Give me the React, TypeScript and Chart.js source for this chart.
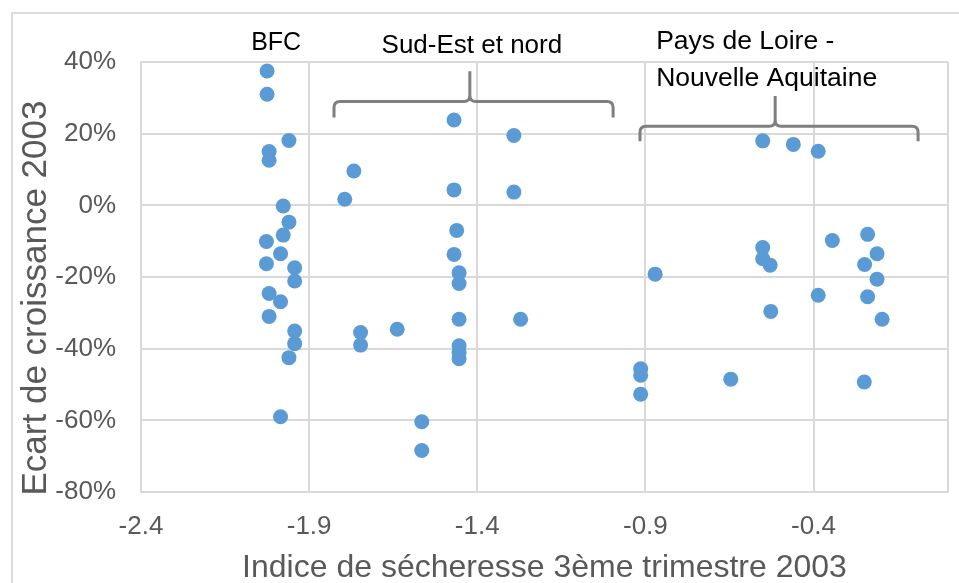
import React, { useEffect, useRef } from "react";
import { Chart, registerables } from "chart.js";

Chart.register(...registerables);

// BFC group
const bfcX = [-2.025, -2.025, -1.96, -2.019, -2.019, -1.977, -1.96, -1.977, -2.027, -1.985, -2.027, -1.943, -1.943, -2.019, -1.985, -2.019, -1.943, -1.943, -1.96, -1.985];
const bfcY = [0.375, 0.31, 0.181, 0.15, 0.126, -0.002, -0.047, -0.083, -0.101, -0.135, -0.163, -0.174, -0.211, -0.246, -0.269, -0.31, -0.351, -0.386, -0.425, -0.59];

// Sud-Est et nord group
const sudEstX = [-1.469, -1.291, -1.767, -1.794, -1.469, -1.291, -1.461, -1.469, -1.454, -1.454, -1.454, -1.271, -1.638, -1.747, -1.747, -1.454, -1.454, -1.454, -1.565, -1.565];
const sudEstY = [0.238, 0.195, 0.096, 0.017, 0.043, 0.037, -0.07, -0.137, -0.188, -0.218, -0.318, -0.318, -0.346, -0.355, -0.39, -0.392, -0.411, -0.428, -0.604, -0.684];

// Pays de Loire - Nouvelle Aquitaine group
const ploX = [-0.551, -0.46, -0.386, -0.344, -0.239, -0.211, -0.551, -0.551, -0.529, -0.248, -0.871, -0.211, -0.386, -0.239, -0.527, -0.196, -0.914, -0.914, -0.914, -0.646, -0.249];
const ploY = [0.18, 0.17, 0.151, -0.098, -0.081, -0.135, -0.118, -0.149, -0.167, -0.165, -0.192, -0.206, -0.251, -0.255, -0.296, -0.318, -0.456, -0.474, -0.527, -0.485, -0.493];

const xTicks = [-2.4, -1.9, -1.4, -0.9, -0.4, 0];
const yMin = -0.8;
const yMax = 0.4;
const yStep = 0.2;

const xTitle = "Indice de sécheresse 3ème trimestre 2003";
const yTitle = "Ecart de croissance 2003";

// group annotations (labels + braces)
const groupLabels = ["BFC", "Sud-Est et nord", "Pays de Loire -", "Nouvelle Aquitaine"];
const braceLeft = [-1.826, -0.916];
const braceRight = [-0.996, -0.089];
const braceTip = [-1.422, -0.514];
const braceBar = [0.29, 0.221];
const braceEnd = [0.245, 0.179];
const braceTop = [0.374, 0.305];

const FONT = '"Liberation Sans", Arial, sans-serif';
const GRID = "#d9d9d9";
const TEXT = "#595959";
const DOT = "#5b9bd5";

const toPts = (xs: number[], ys: number[]) => xs.map((x, i) => ({ x, y: ys[i] }));

const annotPlugin = {
  id: "annot",
  afterDraw(chart: any) {
    const { ctx, scales } = chart;
    const x = scales.x;
    const y = scales.y;
    ctx.save();
    // braces
    ctx.strokeStyle = "#7f7f7f";
    ctx.lineWidth = 3;
    ctx.lineJoin = "round";
    ctx.lineCap = "butt";
    for (let i = 0; i < braceLeft.length; i++) {
      const l = x.getPixelForValue(braceLeft[i]);
      const r = x.getPixelForValue(braceRight[i]);
      const t = x.getPixelForValue(braceTip[i]);
      const hb = y.getPixelForValue(braceBar[i]);
      const he = y.getPixelForValue(braceEnd[i]);
      const ht = y.getPixelForValue(braceTop[i]);
      const rad = 6;
      ctx.beginPath();
      ctx.moveTo(l, he);
      ctx.lineTo(l, hb + rad);
      ctx.quadraticCurveTo(l, hb, l + rad, hb);
      ctx.lineTo(t - rad, hb);
      ctx.quadraticCurveTo(t, hb, t, hb - rad);
      ctx.lineTo(t, ht);
      ctx.moveTo(t, hb - rad);
      ctx.quadraticCurveTo(t, hb, t + rad, hb);
      ctx.lineTo(r - rad, hb);
      ctx.quadraticCurveTo(r, hb, r, hb + rad);
      ctx.lineTo(r, he);
      ctx.stroke();
    }
    // group labels
    ctx.fillStyle = "#000";
    ctx.font = `25px ${FONT}`;
    ctx.textBaseline = "alphabetic";
    ctx.textAlign = "center";
    ctx.fillText(groupLabels[0], x.getPixelForValue(-1.998), 50);
    ctx.font = `26px ${FONT}`;
    ctx.fillText(groupLabels[1], x.getPixelForValue(-1.416), 53);
    ctx.textAlign = "left";
    ctx.font = `26.5px ${FONT}`;
    ctx.fillText(groupLabels[2], x.getPixelForValue(-0.868), 49);
    ctx.fillText(groupLabels[3], x.getPixelForValue(-0.868), 86);
    // axis titles
    ctx.fillStyle = TEXT;
    ctx.font = `32px ${FONT}`;
    ctx.textAlign = "center";
    ctx.fillText(xTitle, (chart.chartArea.left + chart.chartArea.right) / 2, 577);
    ctx.font = `35px ${FONT}`;
    ctx.translate(46, 298);
    ctx.rotate(-Math.PI / 2);
    ctx.fillText(yTitle, 0, 0);
    ctx.restore();
  },
};

export default function App() {
  const ref = useRef<HTMLCanvasElement | null>(null);
  useEffect(() => {
    if (!ref.current) return;
    const chart = new Chart(ref.current, {
      type: "scatter",
      data: {
        datasets: [
          { label: "BFC", data: toPts(bfcX, bfcY) },
          { label: "Sud-Est et nord", data: toPts(sudEstX, sudEstY) },
          { label: "Pays de Loire - Nouvelle Aquitaine", data: toPts(ploX, ploY) },
        ].map((d) => ({
          ...d,
          backgroundColor: DOT,
          borderWidth: 0,
          pointRadius: 7.5,
          pointHoverRadius: 7.5,
        })),
      },
      options: {
        animation: false,
        responsive: false,
        devicePixelRatio: 1,
        layout: { padding: { top: 62, right: 11, left: 0, bottom: 0 } },
        plugins: { legend: { display: false }, tooltip: { enabled: false } },
        scales: {
          x: {
            type: "linear",
            min: -2.4,
            max: 0,
            afterBuildTicks: (s: any) => {
              s.ticks = xTicks.map((v) => ({ value: v }));
            },
            afterFit: (s: any) => {
              s.height = 91;
              s.paddingLeft = 0;
              s.paddingRight = 0;
            },
            ticks: {
              autoSkip: false,
              maxRotation: 0,
              padding: 19,
              color: TEXT,
              font: { family: FONT, size: 26 },
              callback: (v: any) => (Number(v) === 0 ? "" : Number(v).toFixed(1)),
            },
            grid: { color: GRID, lineWidth: 2, drawTicks: false },
            border: { color: GRID, width: 2 },
          },
          y: {
            min: yMin,
            max: yMax,
            afterFit: (s: any) => {
              s.width = 141;
              s.paddingTop = 0;
              s.paddingBottom = 0;
            },
            ticks: {
              stepSize: yStep,
              padding: 25,
              color: TEXT,
              font: { family: FONT, size: 26 },
              callback: (v: any) => `${Math.round(Number(v) * 100)}%`,
            },
            grid: { color: GRID, lineWidth: 2, drawTicks: false },
            border: { color: GRID, width: 2 },
          },
        },
      },
      plugins: [annotPlugin],
    });
    return () => chart.destroy();
  }, []);

  return (
    <div
      style={{
        position: "fixed",
        left: 0,
        top: 0,
        width: 959,
        height: 583,
        overflow: "hidden",
        background: "#fff",
      }}
    >
      <div
        style={{
          position: "absolute",
          left: 11,
          top: 12,
          width: 1000,
          height: 700,
          border: "2px solid #dcdcdc",
        }}
      />
      <canvas
        ref={ref}
        width={959}
        height={583}
        style={{ position: "absolute", left: 0, top: 0, display: "block" }}
      />
    </div>
  );
}
